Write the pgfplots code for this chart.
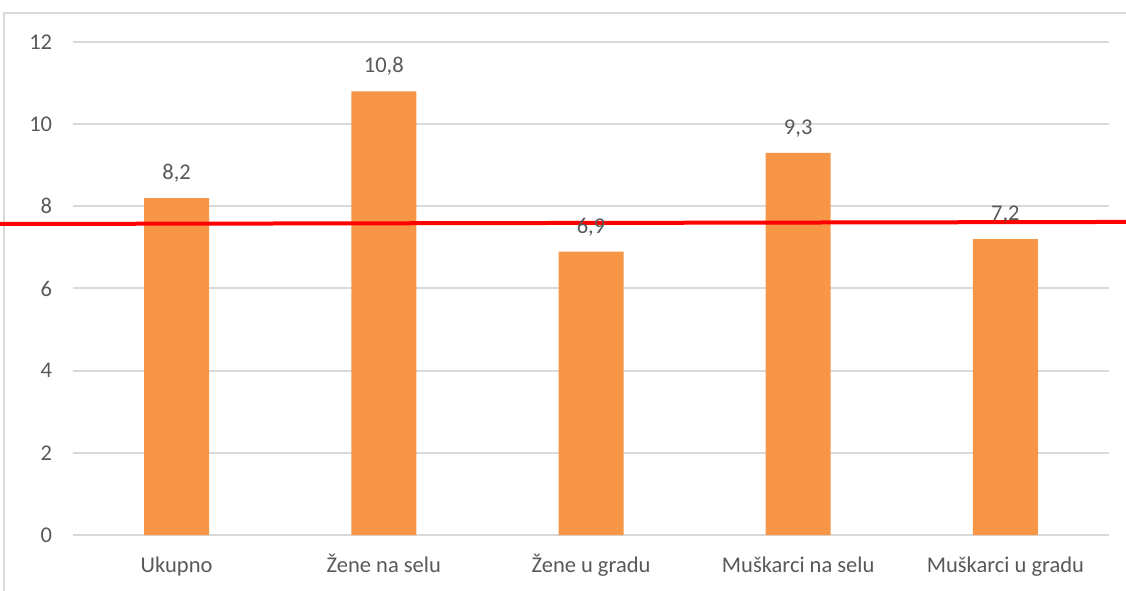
\documentclass[border=0pt]{standalone}
\usepackage{fontspec}
\setmainfont{Carlito}
\usepackage{pgfplots}
\pgfplotsset{compat=1.18}
\definecolor{barorange}{HTML}{F79646}
\definecolor{gridgray}{HTML}{D9D9D9}
\definecolor{txtgray}{HTML}{595959}
\begin{document}
\begin{tikzpicture}
\useasboundingbox (0,0) rectangle (675.6pt,354pt);
\clip (0,0) rectangle (675.6pt,354pt);
\draw[gridgray, line width=1.2pt] (2.4pt,-10pt) -- (2.4pt,346.2pt) -- (700pt,346.2pt);
\begin{axis}[
  at={(43.8pt,33pt)}, anchor=south west,
  scale only axis, width=621.6pt, height=295.8pt,
  ybar, bar width=39pt,
  ymin=0, ymax=12, xmin=-0.5, xmax=4.5,
  xtick=data,
  xticklabels={Ukupno, Žene na selu, Žene u gradu, Muškarci na selu, Muškarci u gradu},
  ytick={0,2,...,12},
  ymajorgrids, grid style={gridgray, line width=1.2pt},
  axis line style={draw=none},
  major tick length=0pt, tick style={draw=none},
  /pgf/number format/assume math mode=true,
  tick label style={font=\fontsize{13.5}{16}\selectfont, text=txtgray},
  yticklabel style={xshift=-9pt},
  xticklabel style={text height=11pt, text depth=3pt, yshift=-8pt},
  clip=false,
]
\addplot[fill=barorange, draw=none,
  nodes near coords={\pgfmathprintnumber[use comma,fixed,fixed zerofill,precision=1]{\pgfplotspointmeta}},
  every node near coord/.append style={font=\fontsize{13.5}{16}\selectfont, text=txtgray, anchor=base, yshift=11pt}]
  coordinates {(0,8.2) (1,10.8) (2,6.9) (3,9.3) (4,7.2)};
\addplot[sharp plot, draw=red, line width=2.4pt, mark=none, forget plot]
  coordinates {(-0.852,7.57) (4.582,7.62)};
\end{axis}
\end{tikzpicture}
\end{document}
